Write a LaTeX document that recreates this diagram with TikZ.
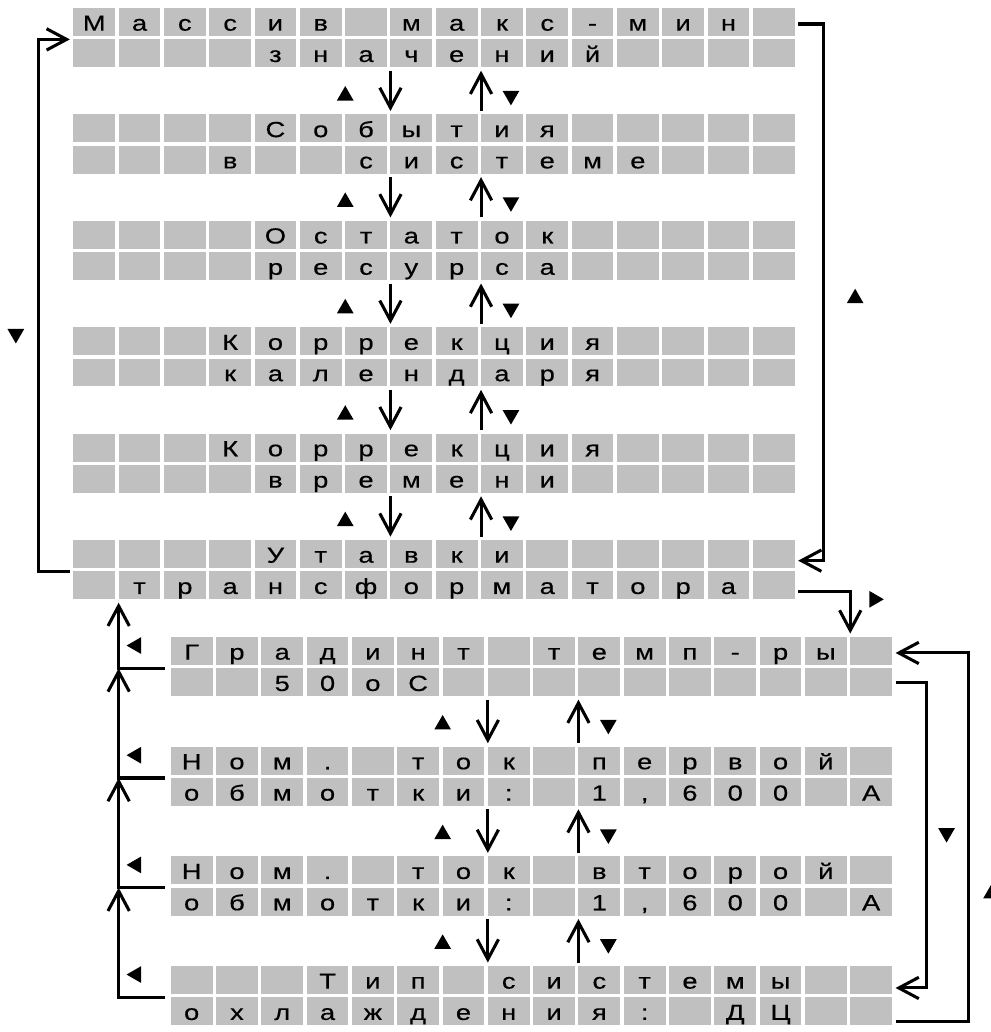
\documentclass[tikz,border=0pt]{standalone}
\usepackage{fontspec}
\setmainfont{Liberation Sans}
\newfontfamily\lcdfont[FakeStretch=1.25,FakeBold=0.4]{Liberation Sans}
\usetikzlibrary{arrows.meta,calc,shapes.geometric}
\definecolor{lcdgray}{RGB}{192,192,192}

% 16x2 screen: name, x and y of the first cell, upper row, lower row
\newcommand{\lcdscreen}[5]{%
  \foreach \ch [count=\i] in {#4}
    \node[cell] (#1-1-\i) at ({#2+45.3*(\i-1)},#3) {\ch};
  \foreach \ch [count=\i] in {#5}
    \node[cell] (#1-2-\i) at ({#2+45.3*(\i-1)},{#3+31.3}) {\ch};
}

\begin{document}
\begin{tikzpicture}[
    x=0.75pt, y=-0.75pt,
    cell/.style={fill=lcdgray,draw=white,line width=2.6pt,minimum width=34pt,minimum height=23.5pt,
      inner sep=0pt,text height=13pt,text depth=0pt,font=\lcdfont\fontsize{16.4pt}{18pt}\selectfont},
    link/.style={line width=2.3pt},
    tri/.style={regular polygon,regular polygon sides=3,fill=black,inner sep=0pt,minimum size=14.5pt},
    triup/.style={tri},
    tridown/.style={tri,shape border rotate=180},
    trileft/.style={tri,shape border rotate=90},
    triright/.style={tri,shape border rotate=270},
    >={Straight Barb[length=15pt,width=16pt]}
]
\useasboundingbox (0,0) rectangle (991,1032);

% main menu
\lcdscreen{arr}{94.25}{22}{М,а,с,с,и,в,{},м,а,к,с,-,м,и,н,{}}{{},{},{},{},з,н,а,ч,е,н,и,й,{},{},{},{}}
\lcdscreen{evt}{94.25}{128.4}{{},{},{},{},С,о,б,ы,т,и,я,{},{},{},{},{}}{{},{},{},в,{},{},с,и,с,т,е,м,е,{},{},{}}
\lcdscreen{res}{94.25}{234.8}{{},{},{},{},О,с,т,а,т,о,к,{},{},{},{},{}}{{},{},{},{},р,е,с,у,р,с,а,{},{},{},{},{}}
\lcdscreen{cal}{94.25}{341.2}{{},{},{},К,о,р,р,е,к,ц,и,я,{},{},{},{}}{{},{},{},к,а,л,е,н,д,а,р,я,{},{},{},{}}
\lcdscreen{tim}{94.25}{447.6}{{},{},{},К,о,р,р,е,к,ц,и,я,{},{},{},{}}{{},{},{},{},в,р,е,м,е,н,и,{},{},{},{},{}}
\lcdscreen{ust}{94.25}{554}{{},{},{},{},У,т,а,в,к,и,{},{},{},{},{},{}}{{},т,р,а,н,с,ф,о,р,м,а,т,о,р,а,{}}

% transformer settings
\lcdscreen{grad}{191.65}{650.95}{Г,р,а,д,и,н,т,{},т,е,м,п,-,р,ы,{}}{{},{},5,0,о,С,{},{},{},{},{},{},{},{},{},{}}
\lcdscreen{inom1}{191.65}{760.6}{Н,о,м,{.},{},т,о,к,{},п,е,р,в,о,й,{}}{о,б,м,о,т,к,и,:,{},1,{,},6,0,0,{},А}
\lcdscreen{inom2}{191.65}{870.3}{Н,о,м,{.},{},т,о,к,{},в,т,о,р,о,й,{}}{о,б,м,о,т,к,и,:,{},1,{,},6,0,0,{},А}
\lcdscreen{cool}{191.65}{979.95}{{},{},{},Т,и,п,{},с,и,с,т,е,м,ы,{},{}}{о,х,л,а,ж,д,е,н,и,я,:,{},Д,Ц,{},{}}

% up and down keys between screens
\foreach \a/\b in {arr/evt,evt/res,res/cal,cal/tim,tim/ust,grad/inom1,inom1/inom2,inom2/cool} {
  \draw[link,->] (\a-2-7.south east) -- (\b-1-7.north east);
  \draw[link,->] (\b-1-9.north east) -- (\a-2-9.south east);
  \node[triup] (up-\a) at ($(\a-2-7.south west)+(3.6,25)$) {};
  \node[tridown] (down-\a) at ($(\a-2-10.south)+(9,25)$) {};
}

% main menu loop
\draw[link,->] (ust-1-1.south west) -- ++(-31,0) |- (arr-1-1.south west);
\node[tridown] (loopdown) at ($(cal-1-1.north west)+(-54,10)$) {};
\draw[link,->] ([yshift=-1.5pt]arr-1-16.east) -- ++(25,0) |- ([yshift=-5pt]ust-1-16.east);
\node[triup] (loopup) at ($(res-1-16.north east)+(57,81)$) {};

% into the settings
\draw[link,->] ([yshift=-4.5pt]ust-2-16.east) -| (grad-1-15.north east);
\node[triright] (enter) at ($(ust-2-16.east)+(76,14)$) {};

% back to the main menu
\draw[link,->] ([xshift=-2pt]grad-1-1.south west) -| (ust-2-1.south east);
\foreach \a/\b in {inom1/grad,inom2/inom1,cool/inom2}
  \draw[link,->] ([xshift=-2pt]\a-1-1.south west) -| (ust-2-1.south east |- \b-1-1.south west);
\foreach \a in {grad,inom1,inom2,cool}
  \node[trileft] (back-\a) at ($(\a-1-1.north west)+(-31,12)$) {};

% settings loop
\draw[link,->] (grad-2-16.east) -- ++(31,0) |- ([yshift=-6pt]cool-1-16.east);
\node[tridown] (setdown) at ($(inom2-1-16.north east)+(51,-20)$) {};
\draw[link,->] ([yshift=-7.5pt]cool-2-16.east) -- ++(73,0) |- ([yshift=-1.5pt]grad-1-16.east);
\node[triup] (setup) at ($(inom2-2-16.east)+(96,-8)$) {};
\end{tikzpicture}
\end{document}
